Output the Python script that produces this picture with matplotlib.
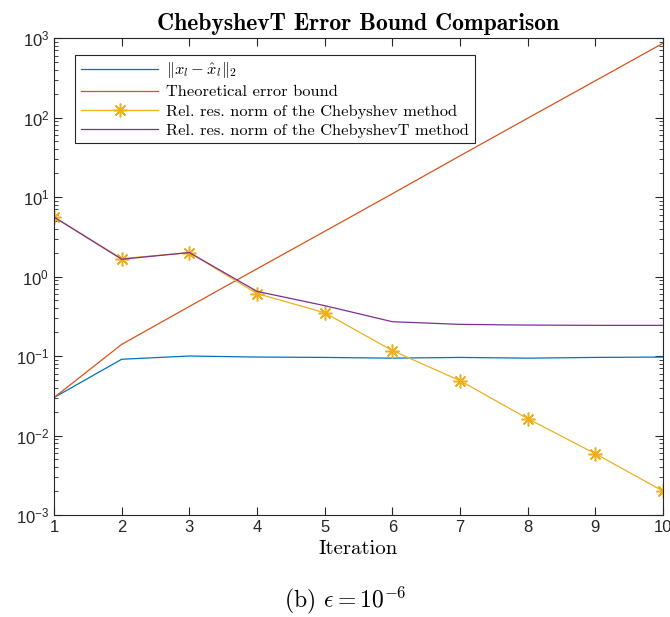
import matplotlib.pyplot as plt
from matplotlib.font_manager import FontProperties
from matplotlib.ticker import LogLocator, FixedLocator, NullFormatter

plt.rcParams['mathtext.fontset'] = 'custom'
plt.rcParams['mathtext.rm'] = 'Liberation Sans'
plt.rcParams['mathtext.it'] = 'Liberation Sans:italic'
plt.rcParams['font.family'] = 'Liberation Sans'

iterations = [1, 2, 3, 4, 5, 6, 7, 8, 9, 10]
err_norm = [0.030, 0.091, 0.100, 0.097, 0.096, 0.094, 0.096, 0.094, 0.096, 0.097]
theory_bound = [0.030, 0.14, 0.42, 1.25, 3.7, 11.0, 33.0, 98.0, 290.0, 860.0]
cheb_res = [5.6, 1.68, 2.0, 0.61, 0.35, 0.117, 0.049, 0.0163, 0.0059, 0.0020]
chebT_res = [5.6, 1.65, 2.0, 0.65, 0.43, 0.27, 0.25, 0.245, 0.243, 0.243]

labels = [r'$\|x_l - \hat{x}_l\|_2$',
          'Theoretical error bound',
          'Rel. res. norm of the Chebyshev method',
          'Rel. res. norm of the ChebyshevT method']

fig = plt.figure(figsize=(6.7, 6.17), dpi=100)
ax = fig.add_axes([0.0806, 0.1653, 0.909, 0.7731])

ax.plot(iterations, err_norm, color='#0072BD', lw=0.9, label=labels[0])
ax.plot(iterations, theory_bound, color='#D95319', lw=0.9, label=labels[1])
ax.plot(iterations, cheb_res, color='#EDB120', lw=0.9, marker=(8, 2, 0),
        markersize=10, markeredgewidth=1.1, label=labels[2])
ax.plot(iterations, chebT_res, color='#7E2F8E', lw=0.9, label=labels[3])

ax.set_yscale('log')
ax.set_xlim(1, 10)
ax.set_ylim(1e-3, 1e3)
ax.set_xticks(iterations)
ax.yaxis.set_major_locator(FixedLocator([1e-3, 1e-2, 1e-1, 1e0, 1e1, 1e2, 1e3]))
ax.set_yticklabels([r'$10^{-3}$', r'$10^{-2}$', r'$10^{-1}$', r'$10^{0}$',
                    r'$10^{1}$', r'$10^{2}$', r'$10^{3}$'])
ax.yaxis.set_minor_locator(LogLocator(base=10, subs=range(2, 10), numticks=20))
ax.yaxis.set_minor_formatter(NullFormatter())
ax.tick_params(which='both', direction='in', top=True, right=True,
               labelsize=12, colors='#262626')
ax.tick_params(which='major', length=6, width=0.8)
ax.tick_params(which='minor', length=3, width=0.6)
for s in ax.spines.values():
    s.set_color('#262626')
    s.set_linewidth(0.8)

ax.set_title('ChebyshevT Error Bound Comparison', fontfamily='cmb10',
             fontsize=17, pad=6)
ax.set_xlabel('Iteration', fontfamily='cmr10', fontsize=15, labelpad=4)

leg_font = FontProperties(family='cmr10', size=11.8, math_fontfamily='cm')
leg = ax.legend(loc='upper left', prop=leg_font, handlelength=4.7,
                fancybox=False, edgecolor='#262626', framealpha=1,
                borderpad=0.35, labelspacing=0.28, handletextpad=0.5,
                borderaxespad=0, bbox_to_anchor=(0.035, 0.965))
leg.get_frame().set_linewidth(0.8)

fig.text(0.515, 0.015, r'(b) $\epsilon = 10^{-6}$', ha='center',
         fontfamily='cmr10', fontsize=17, math_fontfamily='cm')

fig.savefig('out.png', dpi=100)
